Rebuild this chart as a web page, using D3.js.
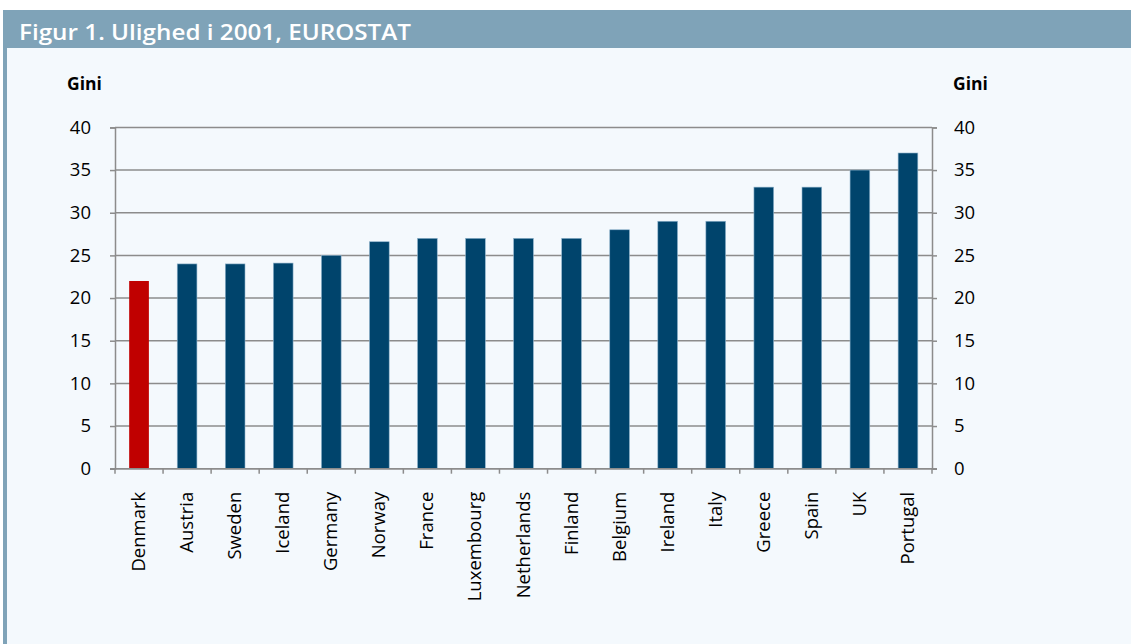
<!DOCTYPE html>
<meta charset="utf-8">
<style>
body { margin: 0; background: #fff; }
.tick text { font-family: "Open Sans", sans-serif; fill: #000; }
</style>
<svg width="1131" height="644"></svg>
<script src="https://cdn.jsdelivr.net/npm/d3@7"></script>
<script>

var countries = ["Denmark", "Austria", "Sweden", "Iceland", "Germany", "Norway", "France",
  "Luxembourg", "Netherlands", "Finland", "Belgium", "Ireland", "Italy", "Greece", "Spain", "UK", "Portugal"];
var gini = [22, 24, 24, 24.1, 25, 26.6, 27, 27, 27, 27, 28, 29, 29, 33, 33, 35, 37];
var highlight = "Denmark";
var yTicks = [0, 5, 10, 15, 20, 25, 30, 35, 40];
var title = "Figur 1. Ulighed i 2001, EUROSTAT";
var axisTitle = "Gini";

var svg = d3.select("svg");

// frame: panel background, header band, left strip
svg.append("rect").attr("x", 3).attr("y", 10).attr("width", 1128).attr("height", 634).attr("fill", "#f4f9fd");
svg.append("rect").attr("x", 3).attr("y", 10).attr("width", 1128).attr("height", 38).attr("fill", "#7fa3b8");
svg.append("rect").attr("x", 3).attr("y", 48).attr("width", 4).attr("height", 596).attr("fill", "#7fa3b8");

svg.append("text")
  .attr("x", 19).attr("y", 40)
  .attr("fill", "#fff")
  .attr("textLength", 392)
  .attr("lengthAdjust", "spacingAndGlyphs")
  .style("font", "600 22px 'Open Sans', sans-serif")
  .text(title);

var plotLeft = 115, plotRight = 932, plotTop = 127.4, plotBottom = 468.7;

var x = d3.scaleBand()
  .domain(countries)
  .range([plotLeft, plotRight])
  .paddingInner(0.59)
  .paddingOuter(0.295);

var y = d3.scaleLinear()
  .domain([0, 40])
  .range([plotBottom, plotTop]);

var g = svg.append("g");

// gridlines
g.selectAll("line.grid")
  .data(yTicks)
  .enter().append("line")
    .attr("class", "grid")
    .attr("x1", plotLeft).attr("x2", plotRight)
    .attr("y1", function(d) { return y(d); })
    .attr("y2", function(d) { return y(d); })
    .attr("stroke", "#8c8c8c")
    .attr("stroke-width", 1.5);

// bars
g.selectAll("rect.bar")
  .data(countries)
  .enter().append("rect")
    .attr("class", "bar")
    .attr("x", function(d) { return x(d); })
    .attr("width", x.bandwidth())
    .attr("y", function(d, i) { return y(gini[i]); })
    .attr("height", function(d, i) { return plotBottom - y(gini[i]); })
    .attr("fill", function(d) { return d == highlight ? "#c00000" : "#00446c"; })
    .attr("stroke", function(d) { return d == highlight ? "none" : "#8fb3cc"; })
    .attr("stroke-width", 0.6);

// y axes
function yAxis(axis, xpos) {
  var a = svg.append("g")
    .attr("transform", "translate(" + xpos + ",0)")
    .call(axis.tickValues(yTicks).tickSize(5).tickPadding(19));
  a.select(".domain").attr("stroke", "#8c8c8c").attr("stroke-width", 1.5);
  a.selectAll(".tick line").attr("stroke", "#8c8c8c").attr("stroke-width", 1.5);
  a.selectAll(".tick text").style("font-size", "18.5px");
  return a;
}
var yl = yAxis(d3.axisLeft(y), plotLeft);
yl.selectAll(".tick text").attr("x", -24);
var yr = yAxis(d3.axisRight(y), plotRight);
yr.selectAll(".tick text").attr("x", 22);

// x axis: tick marks at category boundaries
var bounds = d3.range(countries.length + 1).map(function(i) { return plotLeft + i * x.step(); });
svg.append("line")
  .attr("x1", plotLeft - 5).attr("x2", plotRight + 5)
  .attr("y1", plotBottom).attr("y2", plotBottom)
  .attr("stroke", "#8c8c8c").attr("stroke-width", 1.5);
svg.selectAll("line.xtick")
  .data(bounds)
  .enter().append("line")
    .attr("class", "xtick")
    .attr("x1", function(d) { return d; }).attr("x2", function(d) { return d; })
    .attr("y1", plotBottom).attr("y2", plotBottom + 5)
    .attr("stroke", "#8c8c8c").attr("stroke-width", 1.5);

svg.selectAll("text.cat")
  .data(countries)
  .enter().append("text")
    .attr("class", "cat")
    .attr("transform", function(d) {
      return "translate(" + (x(d) + x.bandwidth() / 2 + 6) + "," + (plotBottom + 23) + ") rotate(-90)";
    })
    .attr("text-anchor", "end")
    .style("font", "18.5px 'Open Sans', sans-serif")
    .text(function(d) { return d; });

// axis titles
svg.append("text").attr("x", 67).attr("y", 90)
  .style("font", "bold 17.5px 'Open Sans', sans-serif").text(axisTitle);
svg.append("text").attr("x", 953).attr("y", 90)
  .style("font", "bold 17.5px 'Open Sans', sans-serif").text(axisTitle);

</script>
